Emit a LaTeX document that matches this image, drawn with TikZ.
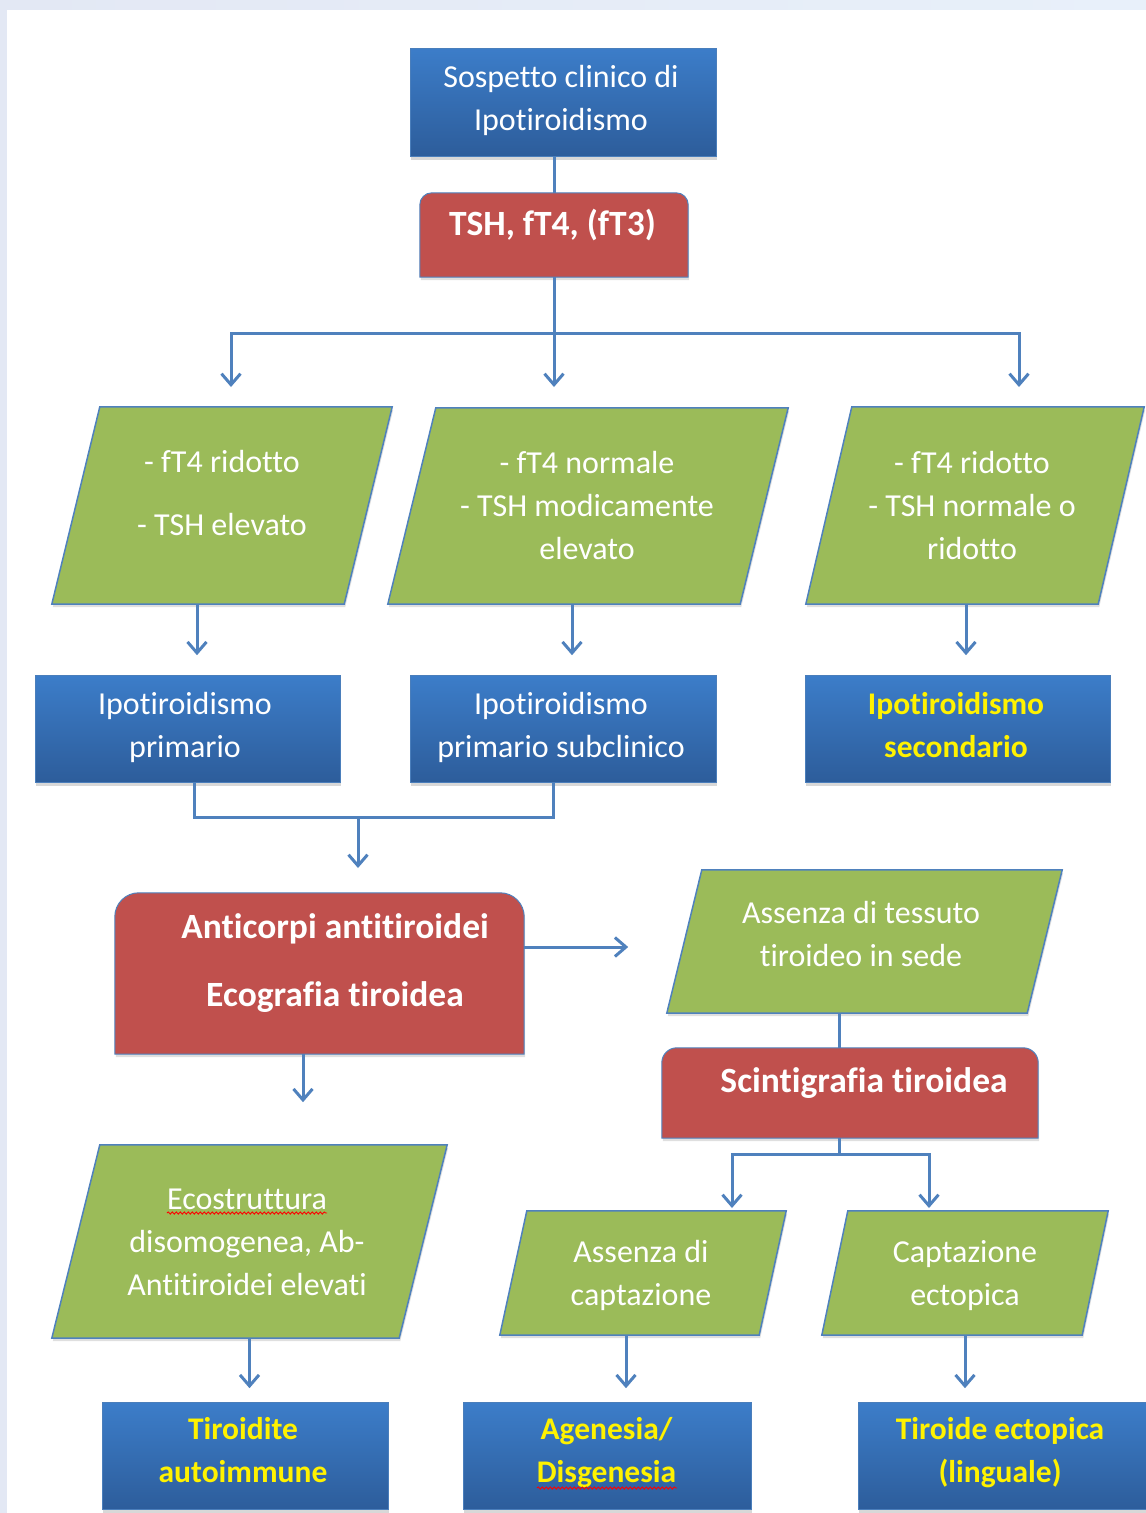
\documentclass[tikz,border=0pt]{standalone}
\usepackage{fontspec}
\setmainfont{Carlito}[Ligatures={NoCommon,NoContextual},Contextuals=NoAlternate]
\usetikzlibrary{arrows.meta,shadows,calc,decorations.pathmorphing}
\definecolor{bluetop}{HTML}{3C7DC9}
\definecolor{bluebot}{HTML}{2D5D9B}
\definecolor{blueedge}{HTML}{4A7EBB}
\definecolor{lineblue}{HTML}{4F81BD}
\definecolor{redfill}{HTML}{C0504D}
\definecolor{greenfill}{HTML}{9BBB59}
\definecolor{framea}{HTML}{E3E8F4}
\definecolor{frameb}{HTML}{E8F0FA}
\newcommand\parashape[2]{%
  \path[para] ([xshift=#2pt]#1.north west) -- (#1.north east) -- ([xshift=-#2pt]#1.south east) -- (#1.south west) -- cycle;}
\newcommand\redshape[2]{%
  \path[redbox] (#1.south west) -- ([yshift=-#2pt]#1.north west) arc[start angle=180,end angle=90,radius=#2pt] -- ([xshift=-#2pt]#1.north east) arc[start angle=90,end angle=0,radius=#2pt] -- (#1.south east) -- cycle;}
\begin{document}
\begin{tikzpicture}[x=1pt,y=1pt,
  bluebox/.style={rectangle, inner sep=0pt, top color=bluetop, bottom color=bluebot, draw=blueedge, line width=1pt,
    drop shadow={shadow xshift=1pt, shadow yshift=-4pt, opacity=0.3}},
  shapebox/.style={rectangle, inner sep=0pt, draw=none},
  para/.style={fill=greenfill, draw=lineblue, line width=1.5pt, drop shadow={shadow xshift=1pt, shadow yshift=-3pt, opacity=0.25}},
  redbox/.style={fill=redfill, draw=lineblue, line width=1pt, drop shadow={shadow xshift=1pt, shadow yshift=-3pt, opacity=0.25}},
  txt/.style={inner sep=0pt, align=center, font=\fontsize{32}{43}\selectfont, text=white},
  btxt/.style={inner sep=0pt, align=center, font=\fontsize{35.5}{43}\selectfont\bfseries, text=white},
  ytxt/.style={inner sep=0pt, align=center, font=\fontsize{31.5}{43}\selectfont\bfseries, text=yellow},
  conn/.style={draw=lineblue, line width=3pt},
  arr/.style={conn, -{Straight Barb[length=11pt,width=19pt]}},
  spell/.style={draw=red, line width=0.9pt, decorate, decoration={snake, segment length=4pt, amplitude=1.1pt}}
]
\useasboundingbox (0,0) rectangle (1146,-1513);
% page
\shade[left color=framea, right color=frameb] (0,0) rectangle (1146,-1513);
\fill[white] (7,-10) rectangle (1146,-1513);

% box frames
\node[bluebox, minimum width=306, minimum height=108] (s) at (563,-102) {};
\node[shapebox, minimum width=268, minimum height=84] (t) at (554,-235) {};
\node[shapebox, minimum width=340, minimum height=197] (p1) at (222,-505.5) {};
\node[shapebox, minimum width=400, minimum height=196] (p2) at (588,-506) {};
\node[shapebox, minimum width=338, minimum height=197] (p3) at (975,-505.5) {};
\node[bluebox, minimum width=305, minimum height=107] (b1) at (187.5,-728.5) {};
\node[bluebox, minimum width=306, minimum height=107] (b2) at (563,-728.5) {};
\node[bluebox, minimum width=305, minimum height=107] (b3) at (957.5,-728.5) {};
\node[shapebox, minimum width=409, minimum height=161] (r2) at (319.5,-973.5) {};
\node[shapebox, minimum width=395, minimum height=143] (p4) at (864.5,-941.5) {};
\node[shapebox, minimum width=376, minimum height=90] (r3) at (850,-1093) {};
\node[shapebox, minimum width=395, minimum height=193] (p7) at (249.5,-1241.5) {};
\node[shapebox, minimum width=286, minimum height=124] (p5) at (643,-1273) {};
\node[shapebox, minimum width=286, minimum height=124] (p6) at (965,-1273) {};
\node[bluebox, minimum width=286, minimum height=107] (b4) at (245,-1456) {};
\node[bluebox, minimum width=288, minimum height=107] (b5) at (607,-1456) {};
\node[bluebox, minimum width=288, minimum height=107] (b6) at (1002,-1456) {};

\redshape{t}{12}
\redshape{r2}{24}
\redshape{r3}{15}
\parashape{p1}{48}
\parashape{p2}{48}
\parashape{p3}{46}
\parashape{p4}{35}
\parashape{p5}{27}
\parashape{p6}{26}
\parashape{p7}{48}

% texts
\begin{scope}[yshift=-3pt]
\node[txt] (ts) at (561,-97) {\strut Sospetto clinico di\\\strut Ipotiroidismo};
\node[btxt] (tt) at (552.5,-224) {\strut TSH, fT4, (fT3)};
\node[txt] (tp1) at (222,-492.5) {\strut - fT4 ridotto\\[20pt]\strut - TSH elevato};
\node[txt] (tp2) at (587,-504.5) {\strut - fT4 normale\\\strut - TSH modicamente\\\strut elevato};
\node[txt] (tp3) at (972,-504.5) {\strut - fT4 ridotto\\\strut - TSH normale o\\\strut ridotto};
\node[txt] (tb1) at (185,-724.5) {\strut Ipotiroidismo\\\strut primario};
\node[txt] (tb2) at (561,-724.5) {\strut Ipotiroidismo\\\strut primario subclinico};
\node[ytxt] (tb3) at (956,-724.5) {\strut Ipotiroidismo\\\strut secondario};
\node[btxt] (tr2) at (335,-961) {\strut Anticorpi antitiroidei\\[25pt]\strut Ecografia tiroidea};
\node[txt] (tp4) at (861,-933.5) {\strut Assenza di tessuto\\\strut tiroideo in sede};
\node[btxt] (tr3) at (864,-1081) {\strut Scintigrafia tiroidea};
\node[txt] (tp7) at (247,-1240.5) {\strut Ecostruttura\\\strut disomogenea, Ab-\\\strut Antitiroidei elevati};
\node[txt] (tp5) at (641,-1272.5) {\strut Assenza di\\\strut captazione};
\node[txt] (tp6) at (965,-1272.5) {\strut Captazione\\\strut ectopica};
\node[ytxt] (tb4) at (243,-1449.5) {\strut Tiroidite\\\strut autoimmune};
\node[ytxt] (tb5) at (606.5,-1449.5) {\strut Agenesia/\\\strut Disgenesia};
\node[ytxt] (tb6) at (1000,-1449.5) {\strut Tiroide ectopica\\\strut (linguale)};
\end{scope}

% spell-check underlines
\draw[spell] (167,-1213) -- (327,-1213);
\draw[spell] (537,-1488) -- (677,-1488);

% connectors
\draw[conn] (t.north |- s.south) -- (t.north);
\coordinate (j1) at (554,-333);
\coordinate (e1) at (231,-387);
\coordinate (e2) at (554,-387);
\coordinate (e3) at (1019,-387);
\draw[conn] (t.south) -- (j1);
\draw[arr] (j1) -| (e1);
\draw[arr] (j1) -- (e2);
\draw[arr] (j1) -| (e3);

\draw[arr] ([xshift=-25pt]p1.south) -- ++(0,-51);
\draw[arr] ([xshift=-16pt]p2.south) -- ++(0,-51);
\draw[arr] ([xshift=-9pt]p3.south) -- ++(0,-51);

\coordinate (b1d) at ([xshift=6.5pt]b1.south);
\coordinate (b2d) at ([xshift=-10pt]b2.south);
\coordinate (j2) at (358,-817);
\coordinate (e4) at (358,-868);
\draw[conn] (b1d) |- (b2d |- j2) -- (b2d);
\draw[arr] (j2) -- (e4);

\coordinate (r2e) at ([yshift=26.5pt]r2.east);
\draw[arr] (r2e) -- ++(104,0);
\draw[arr] ([xshift=-16.5pt]r2.south) -- ++(0,-48);

\coordinate (p4d) at ([xshift=-25.5pt]p4.south);
\draw[conn] (p4d) -- (p4d |- r3.north);

\coordinate (j3) at (839,-1154);
\coordinate (e6) at (732,-1208);
\coordinate (e7) at (929,-1208);
\draw[conn] (r3.south -| j3) -- (j3);
\draw[arr] (j3) -| (e6);
\draw[arr] (j3) -| (e7);

\draw[arr] ([xshift=-17pt]p5.south) -- ++(0,-53);
\draw[arr] (p6.south) -- ++(0,-53);
\draw[arr] (p7.south) -- ++(0,-50);
\end{tikzpicture}
\end{document}
